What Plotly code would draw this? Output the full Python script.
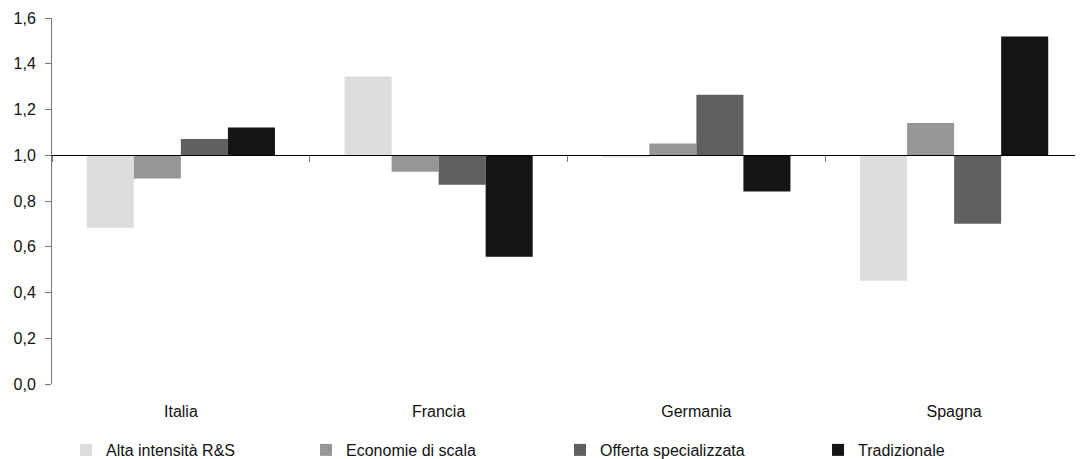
import plotly.graph_objects as go

categories = ["Italia", "Francia", "Germania", "Spagna"]
series_names = ["Alta intensità R&S", "Economie di scala", "Offerta specializzata", "Tradizionale"]
alta = [0.683, 1.344, 0.991, 0.451]
economie = [0.898, 0.928, 1.051, 1.141]
offerta = [1.071, 0.871, 1.265, 0.701]
tradizionale = [1.121, 0.556, 0.841, 1.519]
colors = ["#DDDDDD", "#969696", "#606060", "#141414"]
baseline = 1.0
y_ticks = [0.0, 0.2, 0.4, 0.6, 0.8, 1.0, 1.2, 1.4, 1.6]
legend_x = [0.0136, 0.2464, 0.4927, 0.7430]

font = dict(family="Liberation Sans, Arial, sans-serif", size=16, color="#111111")

fig = go.Figure()
legend_ids = ["legend", "legend2", "legend3", "legend4"]
for name, vals, col, lid in zip(series_names, [alta, economie, offerta, tradizionale], colors, legend_ids):
    fig.add_trace(go.Bar(
        x=categories, y=[v - baseline for v in vals], base=baseline,
        name=name, marker=dict(color=col, line=dict(width=0)), legend=lid,
    ))

# invisible trace to carry the category axis crossing at 1.0
fig.add_trace(go.Scatter(x=categories, y=[baseline] * len(categories), xaxis="x2",
                         mode="none", showlegend=False, hoverinfo="skip"))

legends = {}
for lid, lx in zip(legend_ids, legend_x):
    legends[lid] = dict(orientation="h", x=lx, y=0.02, yref="container", yanchor="middle",
                        xanchor="left", itemwidth=30, font=font, itemclick=False,
                        bgcolor="rgba(0,0,0,0)")

fig.update_layout(
    width=1075, height=451,
    margin=dict(l=44, r=0, t=10, b=75),
    paper_bgcolor="white", plot_bgcolor="white",
    separators=",.",
    barmode="group", bargap=0.27, bargroupgap=0,
    font=font,
    xaxis=dict(showline=False, ticks="", showgrid=False, zeroline=False,
               range=[-0.5, 3.5], ticklabelstandoff=16, automargin=False),
    xaxis2=dict(overlaying="x", matches="x", anchor="free", position=baseline / 1.6,
                showline=True, linecolor="black", linewidth=1,
                ticks="outside", tickson="boundaries", ticklen=6, tickcolor="#777777",
                showticklabels=False, showgrid=False, zeroline=False, automargin=False),
    yaxis=dict(range=[0, 1.6], tickvals=y_ticks, tickformat=".1f",
               showline=True, linecolor="#777777", linewidth=1,
               ticks="outside", ticklen=6, tickcolor="#777777", ticklabelstandoff=6,
               showgrid=False, zeroline=False, automargin=False),
    showlegend=True,
    **legends,
)

fig.write_html("out.html")
